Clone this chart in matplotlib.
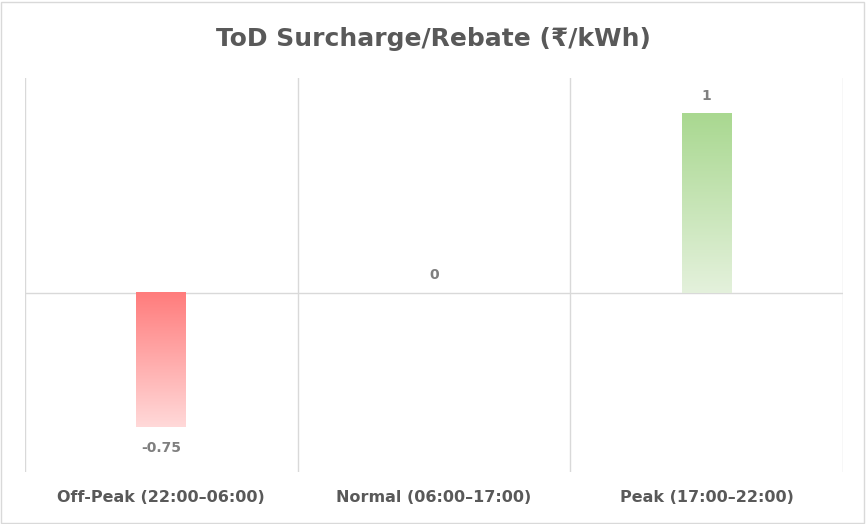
import numpy as np
import matplotlib.pyplot as plt
from matplotlib.colors import LinearSegmentedColormap
from matplotlib.patches import Rectangle

categories = ['Off-Peak (22:00–06:00)', 'Normal (06:00–17:00)', 'Peak (17:00–22:00)']
values = [-0.75, 0, 1]
labels = ['-0.75', '0', '1']

plt.rcParams['font.family'] = ['DejaVu Sans']

fig = plt.figure(figsize=(8.66, 5.24), dpi=100)
ax = fig.add_axes([25 / 866, 52 / 524, 818 / 866, 394 / 524])

# red fades downward from the zero line, green fades downward to the zero line
red = LinearSegmentedColormap.from_list('red', ['#FFD9D9', '#FF7C7C'])
green = LinearSegmentedColormap.from_list('green', ['#E4F1DC', '#A9D890'])

width = 0.183
grad = np.linspace(0, 1, 256).reshape(-1, 1)
for i, v in enumerate(values):
    if v == 0:
        continue
    cmap = green if v > 0 else red
    ax.imshow(grad, extent=[i - width / 2, i + width / 2, min(0, v), max(0, v)],
              origin='lower', aspect='auto', cmap=cmap, zorder=2)

for i, (v, t) in enumerate(zip(values, labels)):
    off = 0.06 if v >= 0 else -0.075
    ax.text(i, v + off, t, ha='center', va='bottom' if v >= 0 else 'top',
            fontsize=10, fontweight='bold', color='#7F7F7F')

for x in [-0.5, 0.5, 1.5, 2.5]:
    ax.axvline(x, color='#D9D9D9', lw=1, zorder=1)
ax.axhline(0, color='#D9D9D9', lw=1, zorder=1)

ax.set_xlim(-0.5, 2.5)
ax.set_ylim(-1, 1.2)
ax.set_xticks(range(len(categories)))
ax.set_xticklabels(categories, fontsize=11.5, fontweight='bold', color='#595959')
ax.tick_params(axis='x', length=0, pad=13)
ax.set_yticks([])
for s in ax.spines.values():
    s.set_visible(False)

fig.text(0.5, 1 - 39 / 524, 'ToD Surcharge/Rebate (₹/kWh)', ha='center', va='center',
         fontsize=18, fontweight='bold', color='#595959')

fig.patches.append(Rectangle((1 / 866, 1 / 524), 863 / 866, 521 / 524, transform=fig.transFigure,
                             fill=False, edgecolor='#D9D9D9', lw=1))

fig.savefig('out.png', dpi=100)
